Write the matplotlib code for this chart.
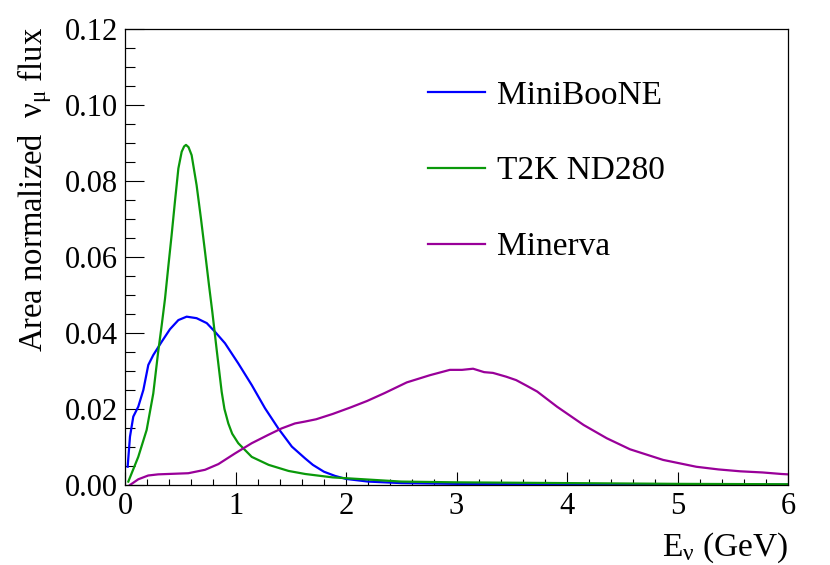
import numpy as np
import matplotlib
matplotlib.use('Agg')
import matplotlib.pyplot as plt

plt.rcParams['font.family'] = ['Liberation Serif', 'DejaVu Serif']
plt.rcParams['mathtext.fontset'] = 'custom'
plt.rcParams['mathtext.rm'] = 'Liberation Serif'
plt.rcParams['mathtext.it'] = 'Liberation Serif:italic'

# MiniBooNE flux
miniboone_e = [0.024, 0.045, 0.075, 0.12, 0.166, 0.211, 0.256, 0.332, 0.407, 0.483,
               0.558, 0.648, 0.74, 0.815, 0.905, 1.025, 1.147, 1.267, 1.387, 1.51,
               1.63, 1.7, 1.8, 1.9, 2.0, 2.2, 2.5, 3.0, 4.0, 5.0, 6.0]
miniboone_flux = [0.0048, 0.0127, 0.0180, 0.0206, 0.0250, 0.0316, 0.0342, 0.0377,
                  0.0410, 0.0434, 0.0443, 0.0439, 0.0426, 0.0403, 0.0373, 0.0320,
                  0.0263, 0.0202, 0.0149, 0.0101, 0.0070, 0.0053, 0.0035, 0.0024,
                  0.0016, 0.0009, 0.0005, 0.0003, 0.0002, 0.0001, 0.0001]

# T2K ND280 flux
t2k_e = [0.03, 0.12, 0.196, 0.256, 0.30, 0.332, 0.362, 0.392, 0.422, 0.452, 0.483,
         0.513, 0.535, 0.552, 0.575, 0.603, 0.648, 0.687, 0.724, 0.76, 0.79, 0.83,
         0.875, 0.90, 0.935, 0.97, 1.025, 1.147, 1.30, 1.48, 1.63, 1.88, 2.5, 3.0,
         4.0, 5.0, 6.0]
t2k_flux = [0.0009, 0.0074, 0.0145, 0.0241, 0.0350, 0.0420, 0.0490, 0.0575,
            0.0658, 0.0746, 0.0833, 0.0877, 0.0891, 0.0895, 0.0889, 0.0868,
            0.0789, 0.0702, 0.0614, 0.0526, 0.0456, 0.0355, 0.0245, 0.0200,
            0.0162, 0.0135, 0.0110, 0.0074, 0.0053, 0.0037, 0.0029, 0.0020,
            0.0009, 0.0007, 0.0005, 0.0003, 0.0002]

# Minerva flux
minerva_e = [0.045, 0.12, 0.21, 0.30, 0.573, 0.724, 0.845, 0.995, 1.147, 1.297,
             1.418, 1.538, 1.63, 1.73, 1.88, 2.04, 2.19, 2.35, 2.55, 2.76, 2.94,
             3.05, 3.15, 3.25, 3.33, 3.45, 3.54, 3.63, 3.73, 3.82, 3.91, 4.03,
             4.15, 4.36, 4.57, 4.72, 4.87, 5.02, 5.17, 5.37, 5.57, 5.77, 5.94, 6.0]
minerva_flux = [0.0000, 0.0015, 0.0025, 0.0028, 0.0031, 0.0040, 0.0055, 0.0083,
                0.0110, 0.0132, 0.0149, 0.0162, 0.0167, 0.0173, 0.0187, 0.0204,
                0.0221, 0.0242, 0.0270, 0.0289, 0.0303, 0.0303, 0.0306, 0.0297,
                0.0295, 0.0285, 0.0276, 0.0262, 0.0246, 0.0226, 0.0206, 0.0182,
                0.0158, 0.0123, 0.0094, 0.0080, 0.0066, 0.0057, 0.0048, 0.0041,
                0.0036, 0.0033, 0.0029, 0.0028]

fig = plt.figure(figsize=(8.3, 5.65), dpi=100)
ax = fig.add_axes([125 / 830, 1 - 485 / 565, 663 / 830, 456 / 565])

ax.plot(miniboone_e, miniboone_flux, color='#0000ff', lw=1.6, label='MiniBooNE')
ax.plot(t2k_e, t2k_flux, color='#0a990a', lw=1.6, label='T2K ND280')
ax.plot(minerva_e, minerva_flux, color='#990099', lw=1.6, label='Minerva')

ax.set_xlim(0, 6)
ax.set_ylim(0, 0.12)
ax.set_xticks(np.arange(0, 7, 1))
ax.set_xticks(np.arange(0, 6.01, 0.2), minor=True)
ax.set_yticks(np.arange(0, 0.121, 0.02))
ax.set_yticks(np.arange(0, 0.121, 0.005), minor=True)
ax.set_yticklabels(['%.2f' % v for v in np.arange(0, 0.121, 0.02)])

ax.tick_params(which='both', direction='in', top=False, right=False,
               labelsize=22, width=0.8)
ax.tick_params(axis='x', which='major', length=9.4, pad=5)
ax.tick_params(axis='x', which='minor', length=4.3)
ax.tick_params(axis='y', which='major', length=13.7, pad=5)
ax.tick_params(axis='y', which='minor', length=7.2)
for s in ax.spines.values():
    s.set_linewidth(0.9)

fig.text(788 / 830, 1 - 548 / 565, r'E$_{\mathrm{\nu}}$ (GeV)',
         ha='right', va='center', fontsize=24)
fig.text(35 / 830, 1 - 27 / 565, r'Area normalized  $\mathrm{\nu_{\mu}}$ flux',
         rotation=90, ha='center', va='top', fontsize=23.5)

ax.legend(loc='upper left', bbox_to_anchor=(428 / 830, 1 - 80 / 565),
          bbox_transform=fig.transFigure, frameon=False, fontsize=24,
          handlelength=1.71, handletextpad=0.36, labelspacing=1.36,
          borderpad=0, borderaxespad=0)

fig.savefig('out.png', dpi=100)
